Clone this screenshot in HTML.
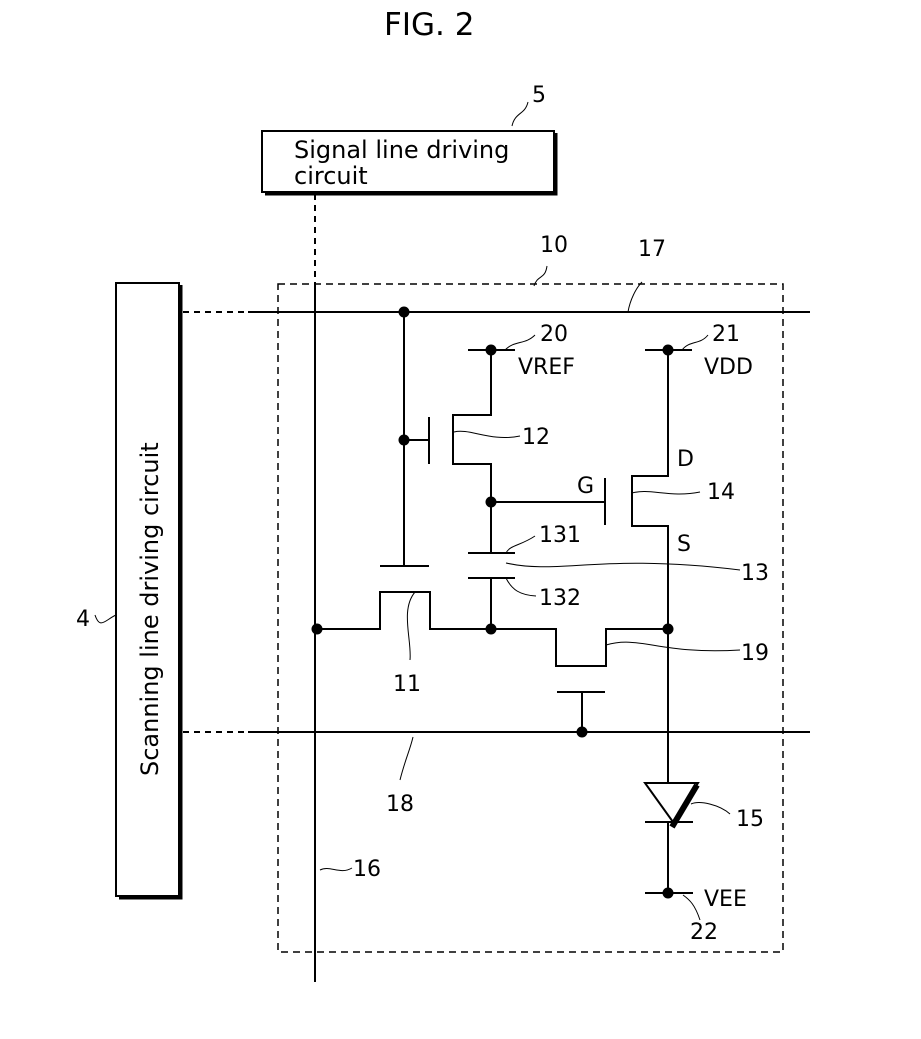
<!DOCTYPE html>
<html><head><style>body{margin:0;background:#fff}svg{display:block}text{font-family:"DejaVu Sans","Liberation Sans",sans-serif;fill:#000}</style></head>
<body>
<svg width="921" height="1039" viewBox="0 0 921 1039" xmlns="http://www.w3.org/2000/svg">
<g fill="none" stroke="#000" stroke-width="2">
<rect x="262" y="131" width="292" height="61" fill="#fff"/>
<path d="M556 133V194H265" stroke-width="3"/>
<rect x="116" y="283" width="63" height="613" fill="#fff"/>
<path d="M181 285V898H119" stroke-width="3"/>
<rect x="278" y="284" width="505" height="668" stroke-dasharray="7,5" stroke-width="1.5"/>
<path d="M315 194V284" stroke-dasharray="6,5"/>
<path d="M315 284V982"/>
<path d="M183 312H248M183 732H248" stroke-dasharray="6,5"/>
<path d="M248 312H810M248 732H810"/>
<path d="M404 312V566M380 566H429M404 440H429M429 417V464"/>
<path d="M468 350H515M491 350V415H453V464H491V553"/>
<path d="M491 502H605M605 478V525"/>
<path d="M468 553H515M468 578H515M491 578V629"/>
<path d="M645 350H692M668 350V476H632V526H668V783"/>
<path d="M317 629H380V592H430V629H556V666H606V629H668"/>
<path d="M557 692H605M582 692V732"/>
<path d="M645 783H698L673 822Z"/>
<path d="M645 822H693M668 822V893M645 893H693"/>
<path d="M697 785L672 827" stroke-width="6"/>
<g stroke-width="1">
<path d="M512 126C515 112 525 115 528 102"/>
<path d="M534 286C538 274 545 280 547 266"/>
<path d="M628 312C630 300 636 288 642 282"/>
<path d="M505 350C515 340 525 345 535 335"/>
<path d="M682 350C690 340 700 345 708 335"/>
<path d="M454 432C470 428 490 442 520 436"/>
<path d="M632 493C650 488 670 498 700 492"/>
<path d="M506 553C510 545 520 546 535 536"/>
<path d="M506 563C560 575 600 553 740 570"/>
<path d="M506 578C512 590 520 595 536 596"/>
<path d="M415 592C400 610 412 640 410 660"/>
<path d="M606 645C640 635 660 655 740 650"/>
<path d="M413 737C410 750 405 760 400 780"/>
<path d="M691 804C700 800 720 805 730 814"/>
<path d="M683 895C690 900 695 905 700 920"/>
<path d="M320 870C330 865 340 875 352 868"/>
<path d="M116 615C105 620 100 630 95 615"/>
</g>
</g>
<g fill="#000">
<circle cx="404" cy="312" r="5.5"/><circle cx="404" cy="440" r="5.5"/>
<circle cx="491" cy="350" r="5.5"/><circle cx="668" cy="350" r="5.5"/>
<circle cx="491" cy="502" r="5.5"/><circle cx="317" cy="629" r="5.5"/>
<circle cx="491" cy="629" r="5.5"/><circle cx="668" cy="629" r="5.5"/>
<circle cx="582" cy="732" r="5.5"/><circle cx="668" cy="893" r="5.5"/>
</g>
<g font-size="22">
<text x="384" y="35" font-size="31">FIG. 2</text>
<text x="294" y="158" font-size="24">Signal line driving</text>
<text x="294" y="184" font-size="24">circuit</text>
<text transform="translate(158 776) rotate(-90)" font-size="24">Scanning line driving circuit</text>
<text x="532" y="102">5</text>
<text x="540" y="252">10</text>
<text x="638" y="256">17</text>
<text x="540" y="341">20</text>
<text x="518" y="374">VREF</text>
<text x="712" y="341">21</text>
<text x="704" y="374">VDD</text>
<text x="522" y="444">12</text>
<text x="677" y="466">D</text>
<text x="577" y="493">G</text>
<text x="707" y="499">14</text>
<text x="539" y="542">131</text>
<text x="677" y="551">S</text>
<text x="741" y="580">13</text>
<text x="539" y="605">132</text>
<text x="741" y="660">19</text>
<text x="393" y="691">11</text>
<text x="386" y="811">18</text>
<text x="736" y="826">15</text>
<text x="353" y="876">16</text>
<text x="704" y="906">VEE</text>
<text x="690" y="939">22</text>
<text x="76" y="626">4</text>
</g>
</svg>
</body></html>
